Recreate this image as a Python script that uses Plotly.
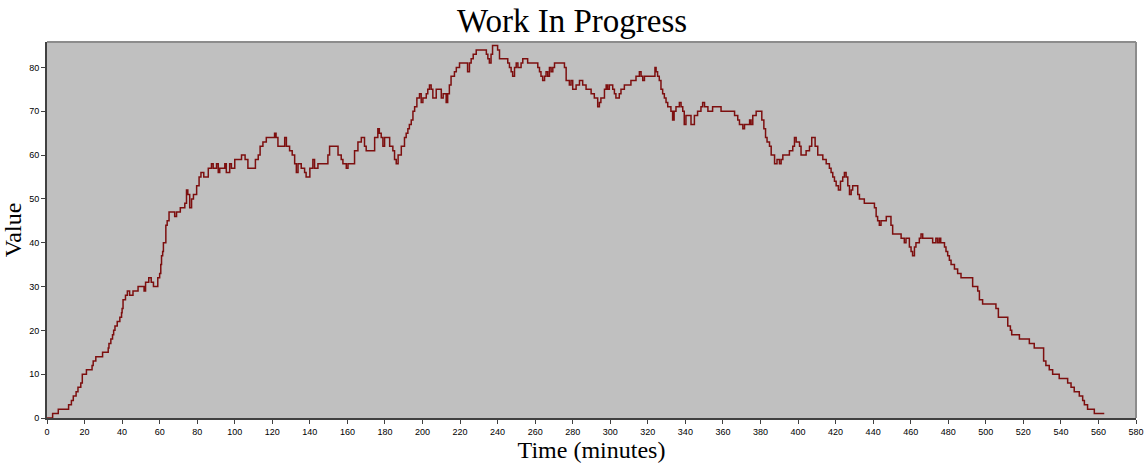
import plotly.graph_objects as go

# Work-in-progress level over the simulated shift (step changes at event times)
time_min = [
    0, 3, 6, 11.5, 13, 14, 15.5, 16.5, 18, 18.8, 21, 24, 24.6, 26, 29.6, 32.6, 33, 34, 34.9,
    35.5, 36.2, 37.4, 38.8, 39.7, 40, 40.5, 41.8, 42.8, 44, 45.8, 48.5, 51.7, 52.5, 54.2,
    55.5, 56.7, 59, 60, 60.6, 61, 61.6, 62, 63.3, 64, 65, 68, 69, 71, 73.4, 74.3, 75, 76,
    77, 78, 79.7, 81, 82, 83.5, 85.9, 87.6, 88.5, 90.3, 91.2, 92, 94.7, 95.5, 97.3, 98.2,
    100, 103.6, 105.5, 107, 111, 112.5, 113.5, 115, 116.8, 121.2, 122, 123, 126.6, 127.5,
    129.2, 130.6, 131.9, 132.8, 133.7, 135.4, 137.2, 138, 140, 141.6, 142.5, 144.3, 149.6,
    150.5, 155, 156.7, 157.6, 159.4, 160.3, 163.8, 165.6, 167.4, 169.1, 170, 174.5, 176.2,
    177, 178, 178.9, 179.8, 182.5, 184.2, 185.1, 186, 187, 188.7, 190.4, 191.3, 192.2, 193,
    194, 194.9, 195.8, 197, 198.4, 199.3, 200.2, 202, 202.8, 203.7, 204.6, 205.5, 207.3,
    210, 211, 212.6, 213.4, 214.3, 215.2, 217, 218, 219.7, 224, 225, 225.9, 227, 228.6,
    234, 234.8, 235.6, 236.5, 237.3, 240, 241, 245.4, 246.3, 247.2, 248, 249, 249.9, 250.8,
    252.5, 253.4, 256, 261.4, 262.3, 263.1, 264, 265, 265.8, 266.7, 267.6, 268.5, 269.4,
    270.3, 275.6, 276.5, 278.2, 279.1, 280, 281.8, 283.6, 285.3, 287.1, 289.8, 291.5, 293.3,
    294.2, 295, 296.9, 297.8, 298.6, 299.5, 301.3, 302.2, 303, 304.8, 305.7, 307.5, 311,
    313.7, 315.5, 316.4, 317.3, 318.2, 323.8, 324.4, 325.2, 326.1, 327, 327.9, 328.8, 329.7,
    330.6, 332.3, 333.2, 334, 335, 336.8, 337.7, 338.6, 339.4, 340.3, 343, 344.8, 346.5,
    348.3, 349.2, 350.2, 352, 354.5, 359, 366.2, 367.9, 368.8, 370.6, 371.5, 374.2, 375,
    375.9, 377.7, 380.7, 381.8, 382.7, 383.5, 384.8, 385.7, 387.5, 388.8, 390.1, 391, 391.9,
    395.4, 397.2, 398.1, 399, 400.8, 401.6, 404.3, 406.1, 407.3, 409.1, 410.5, 413.2, 415,
    416.7, 417.6, 418.5, 419.4, 420.3, 421.5, 422.6, 423.8, 424.7, 425.6, 426.5, 427.4,
    428.3, 429.1, 431.8, 432.7, 435.3, 440.7, 441.6, 442.4, 443.3, 444.2, 447, 449.5, 450.4,
    454.9, 456.6, 457.5, 459.3, 460.2, 461, 462, 462.8, 464.6, 465.5, 466.4, 471.7, 473.4,
    474.3, 475.2, 476, 478, 478.8, 479.7, 480.6, 481.5, 483.3, 485, 486.8, 493, 495.7,
    496.6, 498.3, 505.4, 506.7, 511.7, 513.1, 513.8, 517.9, 523.2, 525.8, 530.8, 532, 533.8,
    535.6, 539.1, 543.6, 545.4, 547.1, 549.8, 551.6, 552.5, 554.2, 557.8, 563.1,
]
wip = [
    0, 1, 2, 3, 4, 5, 6, 7, 8, 10, 11, 12, 13, 14, 15, 16, 17, 18, 19,
    20, 21, 22, 23, 24, 25, 27, 28, 29, 28, 29, 30, 29, 31, 32,
    31, 30, 32, 33, 35, 37, 38, 40, 44, 45, 47, 46, 47, 48, 49, 52, 51, 48,
    50, 51, 53, 55, 56, 55, 57, 58, 57, 58, 56, 57, 58, 56, 58, 57,
    59, 60, 59, 57, 59, 60, 62, 63, 64, 65, 64, 62, 64, 62,
    61, 60, 58, 56, 58, 57, 56, 55, 57, 59, 57, 58, 60,
    62, 60, 59, 58, 57, 58, 61, 63, 64, 62, 61, 64, 66,
    65, 64, 62, 64, 62, 61, 59, 58, 60, 62, 64, 65, 66, 67,
    68, 70, 71, 73, 74, 72, 73, 74, 75, 76, 75, 73, 75,
    73, 74, 72, 74, 76, 78, 79, 80, 81, 79, 81, 82, 83, 84,
    83, 82, 81, 83, 85, 84, 82, 81, 80, 79, 78, 80, 81, 80,
    81, 82, 81, 80, 79, 78, 77, 78, 79, 78, 80, 79, 80,
    81, 80, 77, 76, 77, 75, 76, 77, 76, 75, 74, 73, 71,
    72, 73, 75, 76, 75, 76, 75, 74, 73, 74, 75, 76, 77,
    78, 79, 78, 77, 78, 80, 79, 78, 77, 75, 74, 73, 72,
    71, 70, 68, 70, 71, 72, 71, 70, 67, 69, 67, 69, 70,
    71, 72, 71, 70, 71, 70, 69, 68, 67, 66, 67, 68, 67,
    69, 70, 68, 66, 64, 63, 62, 60, 58, 59, 58, 59, 60,
    61, 62, 64, 63, 62, 60, 61, 62, 64, 62, 60, 59, 58,
    57, 56, 55, 54, 53, 52, 54, 55, 56, 55, 53, 51,
    52, 53, 51, 50, 49, 48, 46, 45, 44, 45, 46, 44, 42,
    41, 40, 41, 39, 38, 37, 39, 40, 41, 42, 41, 40, 41,
    40, 41, 40, 39, 38, 37, 36, 35, 34, 33, 32, 30, 29,
    27, 26, 25, 23, 21, 20, 19, 18, 17, 16, 13, 12, 11,
    10, 9, 8, 7, 6, 5, 4, 3, 2, 1, 1,
]

x_ticks = list(range(0, 581, 20))
y_ticks = list(range(0, 81, 10))

fig = go.Figure(
    go.Scatter(
        x=time_min,
        y=wip,
        mode="lines",
        line=dict(shape="hv", color="#7d0f0f", width=1.5),
        hoverinfo="x+y",
    )
)

tick_font = dict(family="Liberation Sans", size=9, color="#000000")
title_font = dict(family="Liberation Serif", size=24, color="#000000")

fig.update_layout(
    width=1144,
    height=463,
    margin=dict(l=47, r=8, t=42, b=45),
    paper_bgcolor="#ffffff",
    plot_bgcolor="#c0c0c0",
    showlegend=False,
    title=dict(
        text="Work In Progress",
        font=dict(family="Liberation Serif", size=33, color="#000000"),
        x=0.5,
        xanchor="center",
        y=1 - 20 / 463,
        yanchor="middle",
        yref="container",
    ),
    xaxis=dict(
        range=[0, 580],
        tickvals=x_ticks,
        ticktext=[str(v) for v in x_ticks],
        ticks="outside",
        ticklen=4,
        tickcolor="#404040",
        tickfont=tick_font,
        showgrid=False,
        zeroline=False,
        showline=True,
        linecolor="#404040",
        linewidth=2,
        title=dict(text="Time (minutes)", font=title_font, standoff=4),
        automargin=False,
    ),
    yaxis=dict(
        range=[0, 85.8],
        tickvals=y_ticks,
        ticktext=[str(v) for v in y_ticks],
        ticks="outside",
        ticklen=4,
        tickcolor="#404040",
        tickfont=tick_font,
        showgrid=False,
        zeroline=False,
        showline=True,
        linecolor="#404040",
        linewidth=2,
        title=dict(text="Value", font=title_font, standoff=6),
        automargin=False,
    ),
    shapes=[
        dict(type="line", xref="paper", yref="paper", x0=0, x1=1, y0=1, y1=1,
             line=dict(color="#8c8c8c", width=2)),
        dict(type="line", xref="paper", yref="paper", x0=1, x1=1, y0=0, y1=1,
             line=dict(color="#8c8c8c", width=2)),
    ],
)

fig.write_html("out.html")
